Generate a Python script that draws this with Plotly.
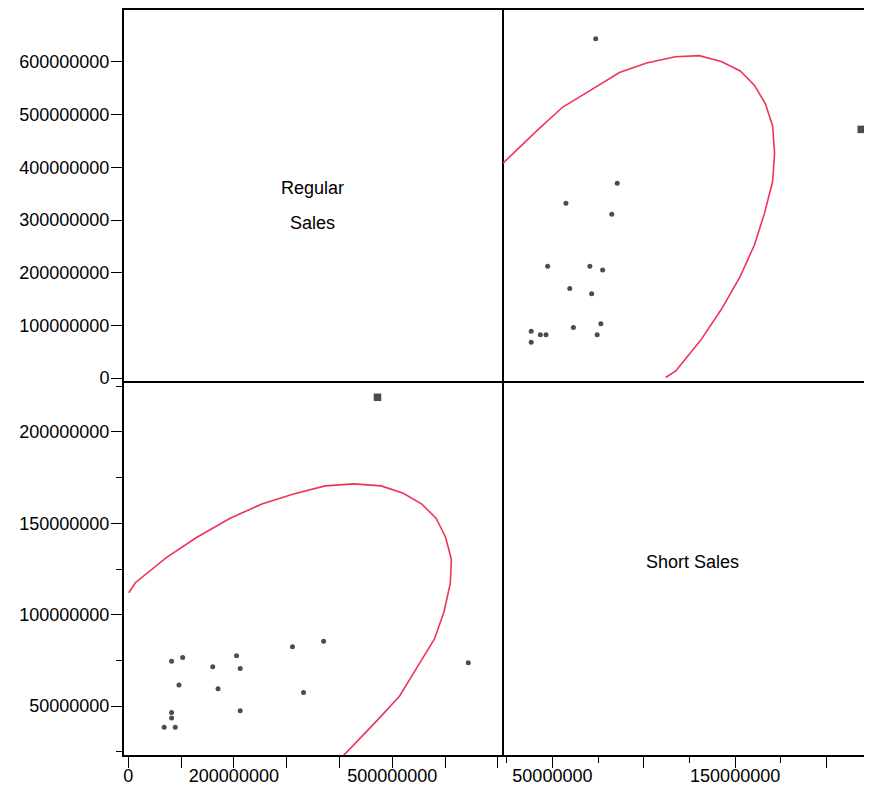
import plotly.graph_objects as go

# ---- data ----
regular_sales = [472e6, 644e6, 370e6, 311e6, 332e6, 205e6, 212e6, 212e6, 160e6,
                 170e6, 103e6, 82e6, 96e6, 82e6, 82e6, 68e6, 89e6]
short_sales = [219e6, 73.7e6, 85.5e6, 82.5e6, 57.4e6, 77.5e6, 70.5e6, 47.4e6, 71.5e6,
               59.5e6, 76.5e6, 74.5e6, 61.5e6, 46.5e6, 43.4e6, 38.4e6, 38.4e6]
highlighted_index = 0

# density ellipse outline (visible arc)
ellipse_regular = [1e6, 3.8e6, 13.3e6, 72e6, 130e6, 193e6, 253e6, 313e6, 373e6, 427e6,
                   479e6, 521e6, 556e6, 583e6, 601e6, 612e6, 610e6, 598e6, 580e6,
                   547e6, 514e6, 471e6, 417e6, 408e6]
ellipse_short = [112e6, 113.1e6, 117.5e6, 131.2e6, 142.4e6, 152.8e6, 160.6e6, 166.1e6,
                 170.5e6, 171.6e6, 170.5e6, 166.5e6, 160.5e6, 152.8e6, 142.4e6, 130.3e6,
                 117.2e6, 101.6e6, 86.7e6, 71.2e6, 55.5e6, 42e6, 25.9e6, 23e6]

regular_ticks = [0, 100e6, 200e6, 300e6, 400e6, 500e6, 600e6, 700e6]
regular_y_labels = ["0", "100000000", "200000000", "300000000", "400000000",
                    "500000000", "600000000", ""]
regular_x_labels = ["0", "", "200000000", "", "", "500000000", "", ""]
short_y_ticks = [50e6, 100e6, 150e6, 200e6]
short_y_labels = ["50000000", "100000000", "150000000", "200000000"]
short_x_labels = ["50000000", "", "150000000", ""]
short_minor = [25e6, 75e6, 125e6, 175e6, 225e6]

# ---- styling ----
FONT = "Liberation Sans, Arial, Helvetica, sans-serif"
RED = "rgb(238,52,88)"
BLACK = "black"

symbols = ["square" if i == highlighted_index else "circle" for i in range(len(regular_sales))]
sizes = [7.5 if i == highlighted_index else 5 for i in range(len(regular_sales))]

fig = go.Figure()

# diagonal cells (empty, carry the axes)
fig.add_trace(go.Scatter(x=[None], y=[None], mode="markers", xaxis="x", yaxis="y",
                         hoverinfo="skip"))
fig.add_trace(go.Scatter(x=[None], y=[None], mode="markers", xaxis="x4", yaxis="y4",
                         hoverinfo="skip"))

# top-right: x = Short, y = Regular
fig.add_trace(go.Scatter(x=ellipse_short, y=ellipse_regular, mode="lines",
                         line=dict(color=RED, width=1.6), xaxis="x2", yaxis="y2",
                         hoverinfo="skip"))
fig.add_trace(go.Scatter(x=short_sales, y=regular_sales, mode="markers", cliponaxis=False,
                         marker=dict(color=BLACK, size=sizes, symbol=symbols, line=dict(width=0)),
                         xaxis="x2", yaxis="y2"))
# bottom-left: x = Regular, y = Short
fig.add_trace(go.Scatter(x=ellipse_regular, y=ellipse_short, mode="lines",
                         line=dict(color=RED, width=1.6), xaxis="x3", yaxis="y3",
                         hoverinfo="skip"))
fig.add_trace(go.Scatter(x=regular_sales, y=short_sales, mode="markers", cliponaxis=False,
                         marker=dict(color=BLACK, size=sizes, symbol=symbols, line=dict(width=0)),
                         xaxis="x3", yaxis="y3"))

XL = [0, 0.5053]
XR = [0.5053, 1]
YT = [0.502, 1]
YB = [0, 0.502]
reg_x_range = [-8.1e6, 707.8e6]
reg_y_range = [-5.7e6, 698.7e6]
short_y_range = [23.2e6, 227.9e6]
short_x_range = [22.4e6, 224.9e6]

tickfont = dict(family=FONT, size=18, color=BLACK)
base = dict(showgrid=False, zeroline=False, linecolor=BLACK, linewidth=2,
            automargin=False, fixedrange=True)
ticked = dict(tickcolor=BLACK, tickwidth=1.3, ticklen=11, tickfont=tickfont, ticks="outside",
              tickmode="array")
minor = dict(tickmode="array", tickvals=short_minor, ticks="outside",
             ticklen=6, tickcolor=BLACK, tickwidth=1.3, showgrid=False)

fig.update_layout(
    width=864, height=776,
    margin=dict(l=116, r=0, t=2, b=29),
    paper_bgcolor="white", plot_bgcolor="white",
    showlegend=False,
    font=dict(family=FONT, size=18, color=BLACK),
    # top-left (diagonal)
    xaxis=dict(domain=XL, anchor="y", range=reg_x_range, showline=True, mirror=True,
               showticklabels=False, ticks="", **base),
    yaxis=dict(domain=YT, anchor="x", range=reg_y_range, showline=True, mirror=True,
               tickvals=regular_ticks, ticktext=regular_y_labels, ticklabelstandoff=-2,
               **ticked, **base),
    # top-right
    xaxis2=dict(domain=XR, anchor="y2", range=short_x_range, showline=True, mirror=True,
                showticklabels=False, ticks="", **base),
    yaxis2=dict(domain=YT, anchor="x2", range=reg_y_range, showline=False,
                showticklabels=False, ticks="", **base),
    # bottom-left
    xaxis3=dict(domain=XL, anchor="y3", range=reg_x_range, showline=True,
                tickvals=regular_ticks, ticktext=regular_x_labels, ticklabelstandoff=-8,
                **ticked, **base),
    yaxis3=dict(domain=YB, anchor="x3", range=short_y_range, showline=True, mirror=True,
                tickvals=short_y_ticks, ticktext=short_y_labels, minor=minor,
                ticklabelstandoff=-2, **ticked, **base),
    # bottom-right (diagonal)
    xaxis4=dict(domain=XR, anchor="y4", range=short_x_range, showline=True,
                tickvals=short_y_ticks, ticktext=short_x_labels, minor=minor,
                ticklabelstandoff=-8, **ticked, **base),
    yaxis4=dict(domain=YB, anchor="x4", range=short_y_range, showline=False,
                showticklabels=False, ticks="", **base),
)

labfont = dict(family=FONT, size=18, color=BLACK)
fig.add_annotation(text="Regular", xref="x domain", yref="y domain", x=0.5, y=0.520,
                   showarrow=False, font=labfont)
fig.add_annotation(text="Sales", xref="x domain", yref="y domain", x=0.5, y=0.426,
                   showarrow=False, font=labfont)
fig.add_annotation(text="Short Sales", xref="x4 domain", yref="y4 domain", x=0.514, y=0.516,
                   showarrow=False, font=labfont)

fig.write_html("out.html")
